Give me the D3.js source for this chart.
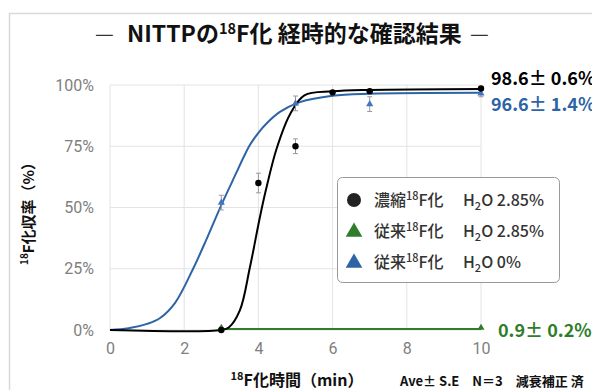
<!DOCTYPE html>
<html><head><meta charset="utf-8">
<script src="https://cdn.jsdelivr.net/npm/d3@7"></script>
<style>
html,body{margin:0;padding:0;background:#fff;}
svg{display:block;font-family:"Noto Sans CJK JP","Noto Sans",sans-serif;}
</style></head>
<body><svg id="c" width="592" height="390"></svg>
<script>
// ---- data ----
const xTicks = [0, 2, 4, 6, 8, 10];
const yTicks = [0, 25, 50, 75, 100];

const concTime = [3, 4, 5, 6, 7, 10];
const concYield = [0, 60, 75, 97, 97.5, 98.6];
const concErr = [0.3, 4, 3, 0.6, 0.6, 0.6];

const convTime = [3, 5, 7, 10];
const convYield = [52, 92.5, 92.2, 96.6];
const convErr = [3, 3, 3, 1.4];

const wetTime = [3, 10];
const wetYield = [0.9, 0.9];

// fitted curves
const concFitX = [0, 3, 3.2, 3.5, 3.77, 4.04, 4.2, 4.49, 4.85, 5.24, 6, 7, 10];
const concFitY = [0, 0, 1, 8, 25.5, 46, 57, 74, 88, 95.8, 97.4, 98, 98.4];
const convFitX = [0, 0.5, 1, 1.35, 1.75, 2.24, 2.6, 3, 3.4, 3.6, 3.77, 4, 4.2, 4.58, 5.12, 6, 7, 10];
const convFitY = [0, 0.7, 2.5, 4.9, 11, 25, 37, 51, 64, 70.5, 75.5, 80.5, 84, 89, 93, 95.6, 96.4, 96.8];
const wetFitX = [3, 10];
const wetFitY = [0.4, 0.4];

const endLabels = ["98.6\u00b1 0.6%", "96.6\u00b1 1.4%", "0.9\u00b1 0.2%"];

const C_BLACK = "#000", C_BLUE = "#2d64a6", C_GREEN = "#2f7d2a";

const svg = d3.select("#c");
// outer frame
svg.append("path").attr("d","M9.5,390 V13.5 H592").attr("fill","none").attr("stroke","#d9d9d9").attr("stroke-width",1.5);

const x = d3.scaleLinear().domain([0,10]).range([110,481]);
const y = d3.scaleLinear().domain([0,100]).range([330,85]);

// grid
svg.append("g").selectAll("line").data(xTicks).join("line")
 .attr("x1",d=>x(d)).attr("x2",d=>x(d)).attr("y1",y(100)).attr("y2",y(0))
 .attr("stroke","#e3e3e3").attr("stroke-width",1);
svg.append("g").selectAll("line").data(yTicks).join("line")
 .attr("x1",x(0)).attr("x2",x(10)).attr("y1",d=>y(d)).attr("y2",d=>y(d))
 .attr("stroke","#e3e3e3").attr("stroke-width",1);

// axes labels
const xa = svg.append("g").attr("transform",`translate(0,${y(0)})`)
 .call(d3.axisBottom(x).tickValues(xTicks).tickSize(0).tickPadding(13).tickFormat(d3.format("d")));
xa.select(".domain").remove();
xa.selectAll("text").attr("fill","#808080").style("font-size","16px").style("font-family","Roboto,'Noto Sans',sans-serif");
const ya = svg.append("g").attr("transform",`translate(${x(0)},0)`)
 .call(d3.axisLeft(y).tickValues(yTicks).tickSize(0).tickPadding(16).tickFormat(d=>d+"%"));
ya.select(".domain").remove();
ya.selectAll("text").attr("fill","#808080").style("font-size","16px").style("font-family","Roboto,'Noto Sans',sans-serif");

// curves
const line = d3.line().x(d=>x(d[0])).y(d=>y(d[1])).curve(d3.curveCatmullRom.alpha(0.5));
const z = (a,b)=>a.map((v,i)=>[v,b[i]]);
svg.append("path").datum(z(wetFitX,wetFitY)).attr("d",line).attr("fill","none").attr("stroke",C_GREEN).attr("stroke-width",2);
svg.append("path").datum(z(convFitX,convFitY)).attr("d",line).attr("fill","none").attr("stroke",C_BLUE).attr("stroke-width",2);
svg.append("path").datum(z(concFitX,concFitY)).attr("d",line).attr("fill","none").attr("stroke",C_BLACK).attr("stroke-width",2);

// error bars
function errBars(xs,ys,es){
  const g = svg.append("g").attr("stroke","#999").attr("stroke-width",1);
  xs.forEach((xv,i)=>{
    const e=es[i]; if(e<=0.5) return;
    const cx=x(xv), y1=y(ys[i]+e), y2=y(ys[i]-e);
    g.append("line").attr("x1",cx).attr("x2",cx).attr("y1",y1).attr("y2",y2);
    g.append("line").attr("x1",cx-2.5).attr("x2",cx+2.5).attr("y1",y1).attr("y2",y1);
    g.append("line").attr("x1",cx-2.5).attr("x2",cx+2.5).attr("y1",y2).attr("y2",y2);
  });
}
errBars(convTime,convYield,convErr);
errBars(concTime,concYield,concErr);

// markers
const tri = d3.symbol().type(d3.symbolTriangle).size(22);
svg.append("g").selectAll("path").data(z(wetTime,wetYield)).join("path")
 .attr("d",tri).attr("transform",d=>`translate(${x(d[0])},${y(d[1])})`).attr("fill",C_GREEN);
svg.append("g").selectAll("path").data(z(convTime,convYield)).join("path")
 .attr("d",tri).attr("transform",d=>`translate(${x(d[0])},${y(d[1])})`).attr("fill","#4472c4");
svg.append("g").selectAll("circle").data(z(concTime,concYield)).join("circle")
 .attr("cx",d=>x(d[0])).attr("cy",d=>y(d[1])).attr("r",3.2).attr("fill",C_BLACK);

// end labels
const lab = [
 {t:endLabels[0], c:"#000", px:491, py:85},
 {t:endLabels[1], c:C_BLUE, px:491, py:111},
 {t:endLabels[2], c:C_GREEN, px:498, py:337}
];
svg.append("g").selectAll("text").data(lab).join("text")
 .attr("x",d=>d.px).attr("y",d=>d.py).attr("fill",d=>d.c)
 .style("font-size","18px").style("font-weight","bold").text(d=>d.t);

// title
svg.append("text").attr("x",95).attr("y",41).style("font-size","21px").attr("fill","#333").text("\u2014");
const title = svg.append("text").attr("x",127).attr("y",42)
 .style("font-size","23px").style("font-weight","bold").attr("fill","#111");
title.append("tspan").text("NITTPの");
title.append("tspan").attr("dy",-8).style("font-size","14.5px").text("18");
title.append("tspan").attr("dy",8).text("F化 経時的な確認結果");
svg.append("text").attr("x",470).attr("y",41).style("font-size","21px").attr("fill","#333").text("\u2014");

// axis titles
const xt = svg.append("text").attr("x",297).attr("y",386).attr("text-anchor","middle")
 .style("font-size","16px").style("font-weight","bold").attr("fill","#111");
xt.append("tspan").attr("dy",-6).style("font-size","11px").text("18");
xt.append("tspan").attr("dy",6).text("F化時間（min）");

const yt = svg.append("text").attr("transform","translate(34,210) rotate(-90)").attr("text-anchor","middle")
 .style("font-size","15px").style("font-weight","bold").attr("fill","#111");
yt.append("tspan").attr("dy",-6).style("font-size","10px").text("18");
yt.append("tspan").attr("dy",6).text("F化収率（%）");

svg.append("text").attr("x",400).attr("y",386).style("font-size","13px").style("font-weight","bold").attr("fill","#111")
 .text("Ave\u00b1 S.E\u3000N\uff1d3\u3000減衰補正 済");

// legend
svg.append("rect").attr("x",337.5).attr("y",177.5).attr("width",222).attr("height",105).attr("rx",5)
 .attr("fill","#fff").attr("stroke","#999").attr("stroke-width",1);
const leg = [
 {name:"濃縮", sym:"circle", c:"#222", w:"2.85%"},
 {name:"従来", sym:"tri", c:C_GREEN, w:"2.85%"},
 {name:"従来", sym:"tri", c:C_BLUE, w:"0%"}
];
const lg = svg.append("g").selectAll("g").data(leg).join("g").attr("transform",(d,i)=>`translate(0,${200+i*31})`);
lg.each(function(d){
  const g=d3.select(this);
  if(d.sym==="circle") g.append("circle").attr("cx",354).attr("cy",0).attr("r",7).attr("fill",d.c);
  else g.append("path").attr("d",d3.symbol().type(d3.symbolTriangle).size(120)).attr("transform","translate(354,1)").attr("fill",d.c);
  const t=g.append("text").attr("x",374).attr("y",6).style("font-size","16px").style("font-weight","500").attr("fill","#333");
  t.append("tspan").text(d.name);
  t.append("tspan").attr("dy",-6).style("font-size","11px").text("18");
  t.append("tspan").attr("dy",6).text("F化");
  const t2=g.append("text").attr("x",463).attr("y",6).style("font-size","16px").style("font-weight","500").attr("fill","#333");
  t2.append("tspan").text("H");
  t2.append("tspan").attr("dy",4).style("font-size","11px").text("2");
  t2.append("tspan").attr("dy",-4).text("O "+d.w);
});
</script></body></html>
